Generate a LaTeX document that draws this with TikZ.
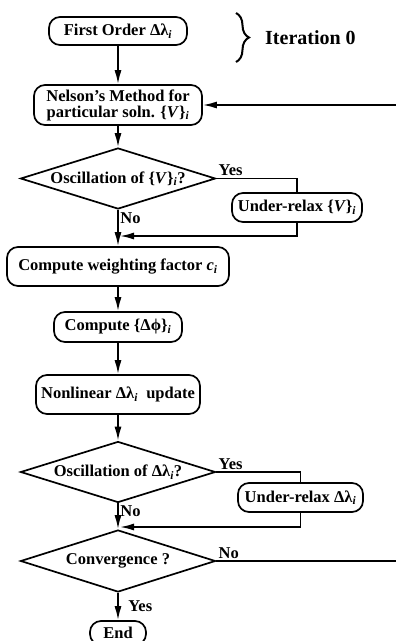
\documentclass[tikz,border=0pt]{standalone}
\usepackage{fontspec}
\setmainfont{Liberation Serif}
\usetikzlibrary{arrows.meta,shapes.geometric,decorations.pathreplacing,positioning}

\newcommand{\idx}[1]{\textsubscript{\textit{#1}}}

\begin{document}
\begin{tikzpicture}[
            x = 1pt, y = 1pt,
            > = {Latex[length=14pt,width=7pt]}, % arrow head style
            line width = 1.7pt,
            font = \fontsize{16.5}{17.5}\selectfont\bfseries,
            box/.style = {draw, rounded corners=11pt, align=center, inner sep=2pt},
            test/.style = {draw, diamond, aspect=3.2, inner sep=0pt,
                           minimum width=195pt, minimum height=61pt},
            lbl/.style = {inner sep=1.5pt}
        ]
    \useasboundingbox (0,0) rectangle (396,-641);

    \node[box, minimum width=138pt, minimum height=28pt] (first) at (118,-31) {First Order Δλ\idx{i}};
    \node[box, minimum width=168pt, minimum height=40pt] (nelson) [node distance=74pt, below of=first] {Nelson's Method for\\[-1.5pt]particular soln. \{\textit{V}\}\idx{i}};
    \node[test] (osc1) [node distance=73.5pt, below of=nelson] {Oscillation of \{\textit{V}\}\idx{i}?};
    \node[box, minimum width=222pt, minimum height=39pt] (weight) [node distance=88pt, below of=osc1] {Compute weighting factor \textit{c}\idx{i}};
    \node[box, minimum width=128pt, minimum height=30pt] (dphi) [node distance=60.5pt, below of=weight] {Compute \{Δϕ\}\idx{i}};
    \node[box, minimum width=164pt, minimum height=39pt] (nonlin) [node distance=67.5pt, below of=dphi] {Nonlinear Δλ\idx{i}\ \ update};
    \node[test] (osc2) [node distance=77.5pt, below of=nonlin] {Oscillation of Δλ\idx{i}?};
    \node[test, minimum height=62pt] (conv) [node distance=89pt, below of=osc2] {Convergence ?};
    \node[box, minimum width=56pt, minimum height=24pt] (end) [node distance=72pt, below of=conv] {End};

    % under-relaxation side branches
    \node[box, minimum width=130pt, minimum height=29pt] (relax1) at (297,-207.5) {Under-relax \{\textit{V}\}\idx{i}};
    \node[box, minimum width=125pt, minimum height=29pt] (relax2) at (300.5,-497.5) {Under-relax Δλ\idx{i}};

    \coordinate (join1) at (120,-236);
    \coordinate (join2) at (120,-527);
    \coordinate (back1) at (396,-105);
    \coordinate (back2) at (396,-561);

    % iteration 0 marker
    \draw[decorate, decoration={brace, amplitude=13pt}, line width=2pt] (236,-13) -- (236,-62);
    \node[font=\fontsize{20}{22}\selectfont\bfseries, anchor=west] (iter) at (261,-38) {Iteration 0};

    \draw[->] (first) -- (nelson);
    \draw[->] (nelson) -- (osc1);
    \draw (osc1.east) -| node[lbl, pos=0, above right] {Yes} (relax1.north);
    \draw[->] (relax1.south) |- (join1);
    \draw[->] (osc1.south) -- node[lbl, pos=0, below right] {No} (weight.north);
    \draw[->] (weight) -- (dphi);
    \draw[->] (dphi) -- (nonlin);
    \draw[->] (nonlin) -- (osc2);
    \draw (osc2.east) -| node[lbl, pos=0, above right] {Yes} (relax2.north);
    \draw[->] (relax2.south) |- (join2);
    \draw[->] (osc2.south) -- node[lbl, pos=0, below right] {No} (conv.north);
    \draw (conv.east) -- node[lbl, pos=0, above right] {No} (back2);
    \draw[->] (back1) -- (nelson.east);
    \draw[->] (conv.south) -- node[lbl, right=8pt] {Yes} (end.north);

\end{tikzpicture}
\end{document}
